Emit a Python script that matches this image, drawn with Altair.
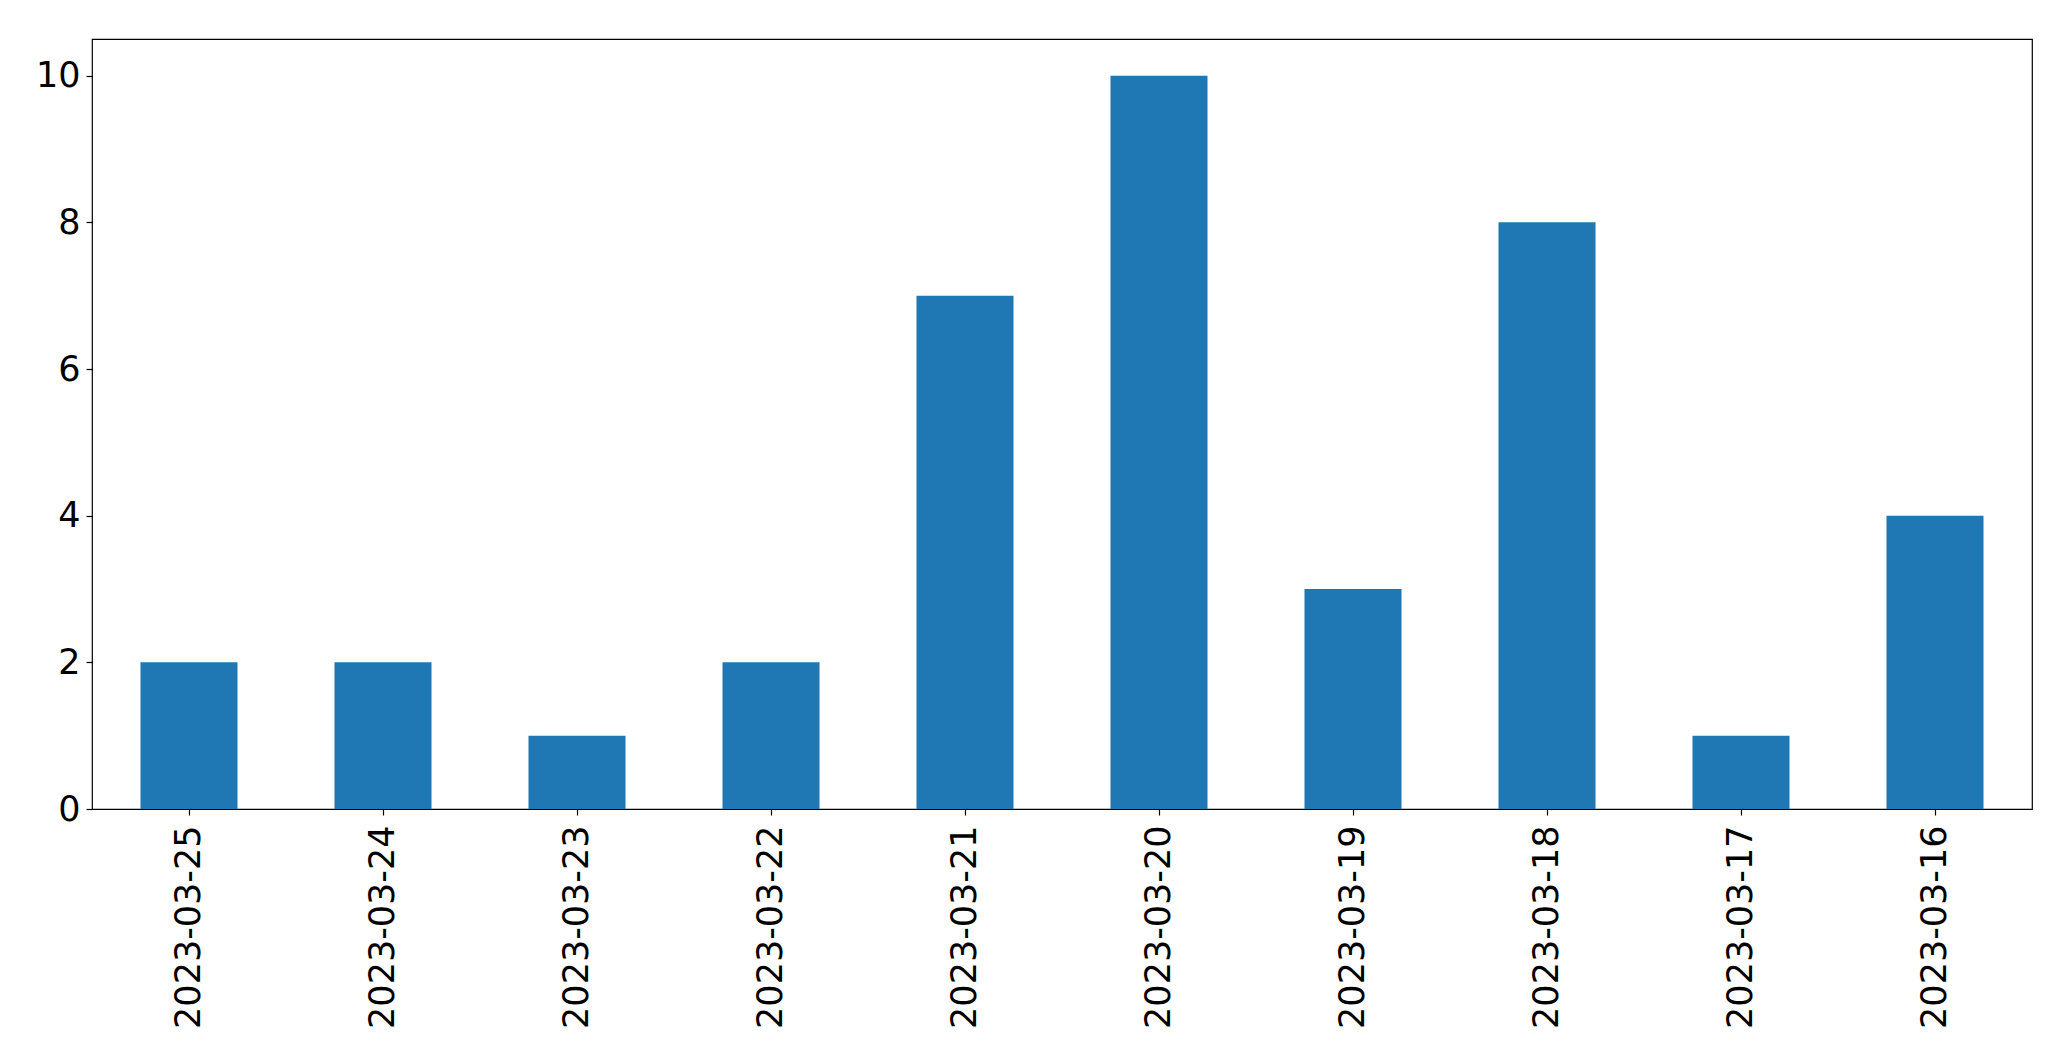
import altair as alt
import pandas as pd

dates = ["2023-03-25", "2023-03-24", "2023-03-23", "2023-03-22", "2023-03-21",
         "2023-03-20", "2023-03-19", "2023-03-18", "2023-03-17", "2023-03-16"]
counts = [2, 2, 1, 2, 7, 10, 3, 8, 1, 4]
y_ticks = [0, 2, 4, 6, 8, 10]

df = pd.DataFrame({"date": dates, "count": counts})

FONT = "DejaVu Sans"

chart = alt.Chart(df).mark_bar(color="#1f77b4").encode(
    x=alt.X("date:N", sort=None, title=None,
            scale=alt.Scale(paddingInner=0.5, paddingOuter=0.25),
            axis=alt.Axis(labelAngle=-90, labelFontSize=35, labelFont=FONT,
                          labelColor="black", tickColor="black", tickSize=6,
                          tickWidth=1.2, labelPadding=10, labelLimit=400,
                          domain=False, grid=False)),
    y=alt.Y("count:Q", title=None,
            scale=alt.Scale(domain=[0, 10.5], nice=False, zero=True),
            axis=alt.Axis(values=y_ticks, labelFontSize=35, labelFont=FONT,
                          labelColor="black", tickColor="black", tickSize=6,
                          tickWidth=1.2, labelPadding=6, labelLimit=400,
                          domain=False, grid=False)),
).properties(
    width=1940,
    height=770,
    autosize=alt.AutoSizeParams(type="none"),
    padding={"left": 84, "top": 31, "right": 30, "bottom": 230},
    background="white",
).configure_view(
    stroke="black", strokeWidth=1.2
)

chart.save("out.html", embed_options={"renderer": "svg", "actions": False})
